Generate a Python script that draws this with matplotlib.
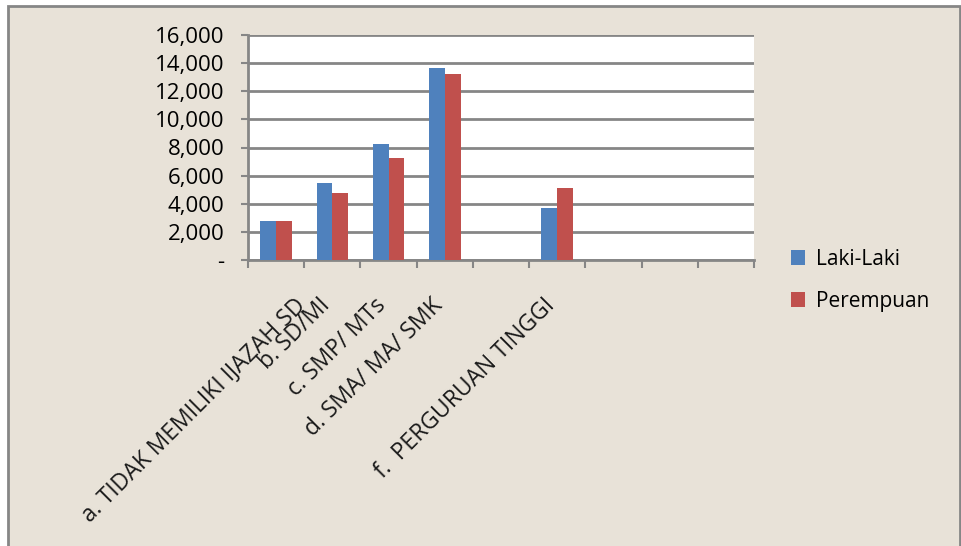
import numpy as np
import matplotlib.pyplot as plt
from matplotlib.patches import Rectangle
from matplotlib.ticker import FuncFormatter

categories = ["a. TIDAK MEMILIKI IJAZAH SD", "b. SD/MI", "c. SMP/ MTs",
              "d. SMA/ MA/ SMK", "", "f.  PERGURUAN TINGGI", "", "", ""]
laki = [2750, 5500, 8250, 13650, np.nan, 3720, np.nan, np.nan, np.nan]
perempuan = [2750, 4740, 7230, 13200, np.nan, 5120, np.nan, np.nan, np.nan]

BLUE = "#4F81BD"
RED = "#C0504D"
GRID = "#868686"
BG = "#e8e2d8"

plt.rcParams['font.family'] = ['Open Sans', 'DejaVu Sans']

fig = plt.figure(figsize=(9.61, 5.46), dpi=100, facecolor="white")
W, H = 961, 546

# paper panel with grey frame, kept behind the axes
fig.patches.append(Rectangle((8 / W, -0.01), (W - 9) / W, 1.01 - 6 / H,
                             transform=fig.transFigure, facecolor=BG,
                             edgecolor=GRID, linewidth=2, zorder=-5))

ax = fig.add_axes([248 / W, 1 - 260 / H, (754 - 248) / W, (260 - 35) / H])
ax.set_facecolor("white")

x = np.arange(len(categories))
bw = 0.28
ax.bar(x - bw / 2, laki, bw, color=BLUE, label="Laki-Laki", zorder=3)
ax.bar(x + bw / 2, perempuan, bw, color=RED, label="Perempuan", zorder=3)

ax.set_xlim(-0.5, len(categories) - 0.5)
ax.set_ylim(0, 16000)
ax.set_yticks(np.arange(0, 16001, 2000))
ax.yaxis.set_major_formatter(FuncFormatter(lambda v, p: "-" if v == 0 else f"{v:,.0f}"))
ax.grid(axis="y", color=GRID, linewidth=2, zorder=1)
ax.set_axisbelow(True)
ax.tick_params(axis="y", length=5, width=1.5, color=GRID, labelsize=16, pad=12)

ax.set_xticks(np.arange(-0.5, len(categories), 1.0))
ax.set_xticklabels([])
ax.tick_params(axis="x", length=6, width=1.5, color=GRID)

for s in ["top", "right"]:
    ax.spines[s].set_visible(False)
for s in ["left", "bottom"]:
    ax.spines[s].set_color(GRID)
    ax.spines[s].set_linewidth(2)

# rotated category labels hanging below the axis
for i, lab in enumerate(categories):
    if not lab:
        continue
    dx = 26 if i == 0 else -6
    px, _ = ax.transData.transform((i, 0))
    fx = (px + dx) / W
    fy = 1 - 302 / H
    fig.text(fx, fy, lab, rotation=45, rotation_mode="anchor",
             ha="right", va="center", fontsize=16.5, color="#1a1a1a")

ax.legend(loc="upper left", bbox_to_anchor=(772 / W, 1 - 230 / H),
          bbox_transform=fig.transFigure, frameon=False, fontsize=15,
          handlelength=0.7, handleheight=0.7, handletextpad=0.5, labelspacing=1.0)

fig.savefig("out.png", dpi=100, facecolor=fig.get_facecolor())
